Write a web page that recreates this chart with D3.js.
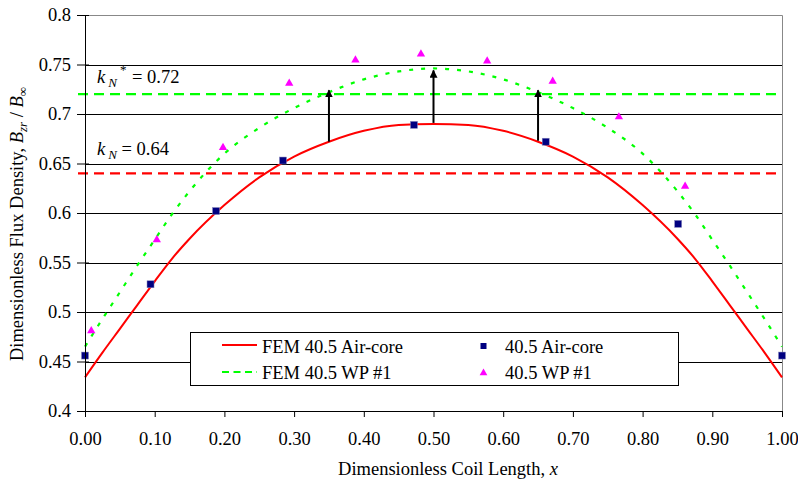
<!DOCTYPE html>
<html>
<head>
<meta charset="utf-8">
<script src="https://cdn.jsdelivr.net/npm/d3@7"></script>
<style>
  body { margin: 0; background: #fff; }
  svg text { font-family: "Liberation Serif", "Times New Roman", serif; fill: #000; }
</style>
</head>
<body>
<div class="chart"></div>
<script>
// FEM curves, sampled along the coil length
var curveX = [0, 0.025, 0.05, 0.075, 0.1, 0.125, 0.15, 0.2, 0.25, 0.3, 0.35, 0.4, 0.45, 0.5,
  0.55, 0.6, 0.65, 0.7, 0.75, 0.8, 0.85, 0.875, 0.9, 0.925, 0.95, 0.975, 1]
var femAirCore = [0.434, 0.459, 0.483, 0.507, 0.531, 0.554, 0.574, 0.608, 0.636, 0.657, 0.672, 0.683, 0.689, 0.690,
  0.689, 0.683, 0.672, 0.657, 0.636, 0.608, 0.574, 0.554, 0.531, 0.507, 0.483, 0.459, 0.434]
var femWP1 = [0.465, 0.493, 0.520, 0.547, 0.573, 0.599, 0.622, 0.660, 0.686, 0.706, 0.722, 0.735, 0.743, 0.746,
  0.743, 0.735, 0.722, 0.706, 0.686, 0.660, 0.622, 0.599, 0.573, 0.547, 0.520, 0.493, 0.465]

// measured points
var airCoreX = [0, 0.094, 0.188, 0.284, 0.472, 0.661, 0.851, 1.0]
var airCoreY = [0.456, 0.528, 0.602, 0.653, 0.689, 0.672, 0.589, 0.456]
var wp1X = [0.009, 0.103, 0.198, 0.293, 0.388, 0.482, 0.577, 0.671, 0.766, 0.861]
var wp1Y = [0.481, 0.573, 0.666, 0.731, 0.7545, 0.7606, 0.7535, 0.733, 0.697, 0.627]

// k_N levels and the arrows between the curves
var kN = 0.64
var kNStar = 0.72
var arrowX = [0.35, 0.5, 0.65]
var arrowFrom = [0.672, 0.691, 0.673]
var arrowTo = [0.724, 0.744, 0.724]

var xTicks = [0, 0.1, 0.2, 0.3, 0.4, 0.5, 0.6, 0.7, 0.8, 0.9, 1.0]
var yTicks = [0.4, 0.45, 0.5, 0.55, 0.6, 0.65, 0.7, 0.75, 0.8]

var fontSize = '18.5px'

var margin = { top: 15, right: 16, bottom: 70, left: 85 }
var width = 798 - margin.left - margin.right
var height = 481 - margin.top - margin.bottom

var svg = d3.select('.chart')
  .append('svg')
  .attr('width', 798)
  .attr('height', 481)
  .append('g')
  .attr('transform', 'translate(' + margin.left + ',' + margin.top + ')')

var xScale = d3.scaleLinear().domain([0, 1]).range([0, width])
var yScale = d3.scaleLinear().domain([0.4, 0.8]).range([height, 0])

// gridlines
svg.append('g')
  .selectAll('line')
  .data(yTicks.filter(d => d > 0.4 && d < 0.8))
  .enter()
  .append('line')
  .attr('x1', 0)
  .attr('x2', width)
  .attr('y1', d => Math.round(yScale(d)) + 0.5)
  .attr('y2', d => Math.round(yScale(d)) + 0.5)
  .attr('stroke', '#000')
  .attr('stroke-width', 1)

// plot border top/right
svg.append('path')
  .attr('d', 'M0,0.5H' + (width + 0.5) + 'V' + height)
  .attr('fill', 'none')
  .attr('stroke', '#888')

// k_N lines
svg.append('line')
  .attr('x1', -7).attr('x2', width)
  .attr('y1', yScale(kNStar)).attr('y2', yScale(kNStar))
  .attr('stroke', '#00ff00').attr('stroke-width', 2.2)
  .attr('stroke-dasharray', '10,6')
svg.append('line')
  .attr('x1', -7).attr('x2', width)
  .attr('y1', yScale(kN)).attr('y2', yScale(kN))
  .attr('stroke', '#ff0000').attr('stroke-width', 2.2)
  .attr('stroke-dasharray', '10,6')

var line = d3.line()
  .x(d => xScale(d[0]))
  .y(d => yScale(d[1]))
  .curve(d3.curveMonotoneX)

svg.append('path')
  .datum(d3.zip(curveX, femWP1))
  .attr('d', line)
  .attr('fill', 'none')
  .attr('stroke', '#00ff00')
  .attr('stroke-width', 2.2)
  .attr('stroke-dasharray', '4,8')

svg.append('path')
  .datum(d3.zip(curveX, femAirCore))
  .attr('d', line)
  .attr('fill', 'none')
  .attr('stroke', '#ff0000')
  .attr('stroke-width', 2)

// arrows
svg.append('defs').append('marker')
  .attr('id', 'head')
  .attr('viewBox', '0 0 10 10')
  .attr('refX', 9).attr('refY', 5)
  .attr('markerWidth', 4).attr('markerHeight', 4)
  .attr('orient', 'auto')
  .append('path')
  .attr('d', 'M0,0L10,5L0,10z')
  .attr('fill', '#000')

svg.append('g')
  .selectAll('line')
  .data(d3.zip(arrowX, arrowFrom, arrowTo))
  .enter()
  .append('line')
  .attr('x1', d => xScale(d[0]))
  .attr('x2', d => xScale(d[0]))
  .attr('y1', d => yScale(d[1]))
  .attr('y2', d => yScale(d[2]))
  .attr('stroke', '#000')
  .attr('stroke-width', 2)
  .attr('marker-end', 'url(#head)')

// markers
svg.append('g')
  .selectAll('path')
  .data(d3.zip(wp1X, wp1Y))
  .enter()
  .append('path')
  .attr('d', d3.symbol().type(d3.symbolTriangle).size(30))
  .attr('transform', d => 'translate(' + xScale(d[0]) + ',' + yScale(d[1]) + ')')
  .attr('fill', '#ff00ff')

svg.append('g')
  .selectAll('rect')
  .data(d3.zip(airCoreX, airCoreY))
  .enter()
  .append('rect')
  .attr('x', d => xScale(d[0]) - 3.5)
  .attr('y', d => yScale(d[1]) - 3.5)
  .attr('width', 7)
  .attr('height', 7)
  .attr('fill', '#000080')
  .attr('stroke', '#8888bb')
  .attr('stroke-width', 0.5)

// axes
var xAxis = d3.axisBottom(xScale).tickValues(xTicks).tickFormat(d3.format('.2f')).tickSize(6).tickSizeOuter(0)
var yAxis = d3.axisLeft(yScale).tickValues(yTicks).tickFormat(d => d3.format('')(+d.toFixed(2))).tickSize(8).tickPadding(6).tickSizeOuter(0)

var gx = svg.append('g')
  .attr('transform', 'translate(0,' + height + ')')
  .call(xAxis)
gx.select('.domain').attr('stroke', '#000')
gx.selectAll('.tick line').attr('stroke', '#000')
gx.selectAll('text').attr('dy', null).attr('y', 34).style('font-size', fontSize)

var gy = svg.append('g').call(yAxis)
gy.select('.domain').attr('stroke', '#000')
gy.selectAll('.tick line').attr('stroke', '#000').attr('x2', 4).attr('x1', -8)
gy.selectAll('text').style('font-size', fontSize)

// axis titles
svg.append('text')
  .attr('x', 448 - margin.left)
  .attr('y', 475 - margin.top)
  .attr('text-anchor', 'middle')
  .style('font-size', fontSize)
  .html('Dimensionless Coil Length, <tspan font-style="italic">x</tspan>')

svg.append('text')
  .attr('transform', 'translate(' + (23 - margin.left) + ',' + (224 - margin.top) + ') rotate(-90)')
  .attr('text-anchor', 'middle')
  .style('font-size', fontSize)
  .html('Dimensionless Flux Density, <tspan font-style="italic">B</tspan><tspan font-style="italic" font-size="13px" dy="4">zr</tspan><tspan dy="-4"> / </tspan><tspan font-style="italic">B</tspan><tspan font-size="13px" dy="4">∞</tspan>')

// k_N labels
svg.append('text')
  .attr('x', 97 - margin.left)
  .attr('y', 83 - margin.top)
  .style('font-size', fontSize)
  .html('<tspan font-style="italic">k</tspan><tspan font-style="italic" font-size="13px" dx="3" dy="4">N</tspan><tspan font-size="13px" dx="3" dy="-13">*</tspan><tspan dx="1" dy="9"> = 0.72</tspan>')

svg.append('text')
  .attr('x', 97 - margin.left)
  .attr('y', 155 - margin.top)
  .style('font-size', fontSize)
  .html('<tspan font-style="italic">k</tspan><tspan font-style="italic" font-size="13px" dx="3" dy="4">N</tspan><tspan dy="-4"> = 0.64</tspan>')

// legend
var legend = svg.append('g').attr('transform', 'translate(' + (190 - margin.left) + ',' + (332 - margin.top) + ')')
legend.append('rect')
  .attr('x', 0.5).attr('y', 0.5)
  .attr('width', 488).attr('height', 53)
  .attr('fill', '#fff').attr('stroke', '#000')

legend.append('line')
  .attr('x1', 32).attr('x2', 67).attr('y1', 13).attr('y2', 13)
  .attr('stroke', '#ff0000').attr('stroke-width', 2.2)
legend.append('line')
  .attr('x1', 32).attr('x2', 67).attr('y1', 40).attr('y2', 40)
  .attr('stroke', '#00ff00').attr('stroke-width', 2.2)
  .attr('stroke-dasharray', '7,4.5')
legend.append('rect')
  .attr('x', 290.5).attr('y', 11).attr('width', 6).attr('height', 6)
  .attr('fill', '#000080')
legend.append('path')
  .attr('d', d3.symbol().type(d3.symbolTriangle).size(26))
  .attr('transform', 'translate(293.5,41)')
  .attr('fill', '#ff00ff')

var legendText = ['FEM 40.5 Air-core', 'FEM 40.5 WP #1', '40.5 Air-core', '40.5 WP #1']
legend.selectAll('.lt')
  .data(legendText)
  .enter()
  .append('text')
  .attr('x', (d, i) => i < 2 ? 72 : 315)
  .attr('y', (d, i) => i % 2 === 0 ? 21 : 47)
  .style('font-size', fontSize)
  .text(d => d)
</script>
</body>
</html>
